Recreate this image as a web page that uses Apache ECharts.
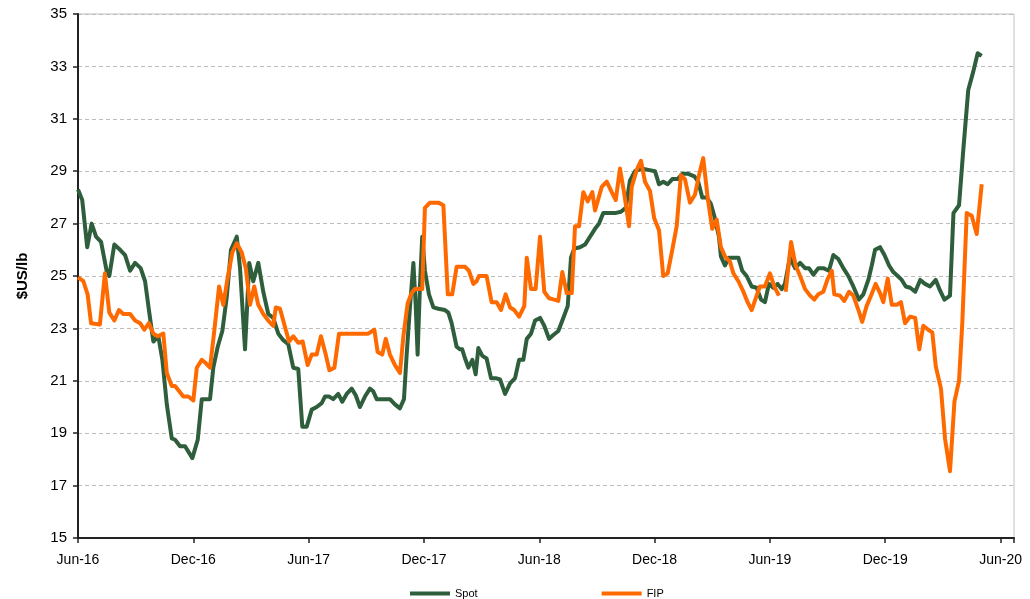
<!DOCTYPE html>
<html>
<head>
<meta charset="utf-8">
<title>Spot vs FIP</title>
<script src="https://cdn.jsdelivr.net/npm/echarts@6/dist/echarts.min.js"></script>
<style>
  html, body { margin: 0; padding: 0; background: #fff; }
  #chart { width: 1030px; height: 599px; }
</style>
</head>
<body>
<div id="chart"></div>
<script>
'use strict';

/*-----------------------------------------------
|   Data (x = months since Jun-16)
-----------------------------------------------*/
const tickLabels = ['Jun-16', 'Dec-16', 'Jun-17', 'Dec-17', 'Jun-18', 'Dec-18', 'Jun-19', 'Dec-19', 'Jun-20'];

const spotMonths = [
  0.0, 0.22, 0.48, 0.71, 0.94, 1.2, 1.49, 1.63, 1.89, 2.19, 2.45, 2.71, 2.97, 3.26, 3.49, 3.69, 3.92, 4.18, 4.39, 4.62,
  4.88, 5.05, 5.31, 5.57, 5.95, 6.23, 6.44, 6.87, 7.04, 7.27, 7.51, 7.74, 7.96, 8.26, 8.43, 8.69, 8.91, 9.12, 9.38, 9.64,
  9.9, 10.16, 10.42, 10.68, 10.94, 11.2, 11.46, 11.67, 11.9, 12.16, 12.42, 12.68, 12.85, 13.06, 13.28, 13.54, 13.75, 13.98, 14.24, 14.45,
  14.67, 14.93, 15.19, 15.36, 15.54, 15.97, 16.23, 16.49, 16.75, 16.96, 17.1, 17.27, 17.45, 17.57, 17.67, 17.79, 17.91, 18.05, 18.26, 18.49,
  18.75, 19.09, 19.27, 19.44, 19.7, 19.88, 19.99, 20.14, 20.31, 20.52, 20.69, 20.83, 21.04, 21.26, 21.49, 21.73, 21.96, 22.22, 22.48, 22.74,
  22.95, 23.17, 23.35, 23.57, 23.78, 24.04, 24.26, 24.51, 24.73, 24.99, 25.25, 25.48, 25.65, 25.82, 26.12, 26.38, 26.64, 26.9, 27.11, 27.33,
  27.59, 27.94, 28.25, 28.5, 28.72, 28.98, 29.33, 29.67, 30.02, 30.23, 30.45, 30.68, 30.92, 31.2, 31.44, 31.75, 32.07, 32.27, 32.48, 32.71,
  32.93, 33.14, 33.35, 33.45, 33.66, 33.87, 34.36, 34.56, 34.79, 35.05, 35.31, 35.54, 35.74, 35.95, 36.18, 36.4, 36.61, 36.78, 37.04, 37.31,
  37.57, 37.83, 38.03, 38.26, 38.52, 38.78, 39.07, 39.3, 39.56, 39.82, 40.08, 40.34, 40.63, 40.86, 41.12, 41.3, 41.47, 41.73, 41.96, 42.2,
  42.42, 42.65, 42.86, 43.07, 43.3, 43.56, 43.82, 44.07, 44.33, 44.63, 44.85, 45.08, 45.37, 45.55, 45.84, 46.06, 46.32, 46.58, 46.81, 47.02
];
const spotValues = [
  28.3, 27.9, 26.1, 27.0, 26.5, 26.3, 25.2, 25.0, 26.2, 26.0, 25.8, 25.2, 25.5, 25.3, 24.8, 23.7, 22.5, 22.7, 21.8, 20.1,
  18.8, 18.75, 18.5, 18.5, 18.05, 18.75, 20.3, 20.3, 21.5, 22.3, 22.9, 24.2, 26.0, 26.5, 25.3, 22.2, 25.5, 24.8, 25.5, 24.4,
  23.55, 23.4, 22.8, 22.55, 22.4, 21.5, 21.45, 19.25, 19.25, 19.9, 20.0, 20.15, 20.4, 20.4, 20.3, 20.5, 20.2, 20.5, 20.7, 20.45,
  20.0, 20.4, 20.7, 20.6, 20.3, 20.3, 20.3, 20.1, 19.95, 20.3, 22.0, 23.8, 25.5, 23.9, 22.0, 24.6, 26.5, 25.2, 24.3, 23.8,
  23.75, 23.7, 23.6, 23.2, 22.3, 22.2, 22.2, 21.85, 21.5, 21.8, 21.25, 22.25, 21.95, 21.85, 21.1, 21.1, 21.05, 20.5, 20.9, 21.1,
  21.8, 21.8, 22.6, 22.8, 23.3, 23.4, 23.1, 22.6, 22.75, 22.9, 23.4, 23.85, 25.7, 26.05, 26.1, 26.2, 26.5, 26.8, 27.0, 27.4,
  27.4, 27.4, 27.45, 27.6, 28.65, 29.0, 29.1, 29.05, 29.0, 28.5, 28.6, 28.5, 28.7, 28.7, 28.9, 28.9, 28.8, 28.6, 28.0, 28.0,
  27.75, 27.2, 26.5, 25.75, 25.4, 25.7, 25.7, 25.2, 25.0, 24.6, 24.55, 24.1, 24.0, 24.7, 24.55, 24.7, 24.5, 24.7, 25.7, 25.3,
  25.5, 25.3, 25.3, 25.05, 25.3, 25.3, 25.2, 25.8, 25.65, 25.3, 25.0, 24.6, 24.1, 24.3, 24.85, 25.4, 26.0, 26.1, 25.8, 25.4,
  25.15, 25.0, 24.85, 24.6, 24.55, 24.4, 24.85, 24.7, 24.6, 24.85, 24.45, 24.1, 24.25, 27.4, 27.7, 29.8, 32.1, 32.8, 33.5, 33.4
];

const fipMonths = [
  0.0, 0.28, 0.5, 0.68, 1.14, 1.4, 1.63, 1.89, 2.13, 2.36, 2.71, 2.97, 3.23, 3.45, 3.69, 3.92, 4.15, 4.44, 4.62, 4.88,
  5.05, 5.48, 5.74, 6.0, 6.18, 6.44, 6.61, 6.87, 7.09, 7.34, 7.56, 7.79, 8.03, 8.26, 8.52, 8.73, 8.95, 9.17, 9.38, 9.64,
  9.9, 10.16, 10.29, 10.51, 10.77, 10.98, 11.2, 11.46, 11.69, 11.95, 12.16, 12.42, 12.64, 12.89, 13.08, 13.34, 13.58, 15.1, 15.42, 15.59,
  15.83, 16.01, 16.23, 16.49, 16.75, 16.93, 17.15, 17.36, 17.53, 17.91, 18.05, 18.31, 18.75, 19.01, 19.24, 19.47, 19.7, 20.14, 20.34, 20.57,
  20.74, 20.86, 21.26, 21.52, 21.78, 22.01, 22.25, 22.48, 22.7, 22.95, 23.22, 23.35, 23.57, 23.81, 24.04, 24.26, 24.51, 24.78, 24.99, 25.2,
  25.43, 25.69, 25.86, 26.07, 26.29, 26.52, 26.76, 26.9, 27.25, 27.51, 27.77, 27.98, 28.2, 28.42, 28.67, 28.81, 29.07, 29.29, 29.5, 29.76,
  29.98, 30.23, 30.45, 30.68, 30.92, 31.15, 31.37, 31.58, 31.84, 32.1, 32.31, 32.53, 32.76, 33.0, 33.23, 33.45, 33.66, 33.92, 34.1, 34.36,
  34.62, 34.84, 35.05, 35.31, 35.48, 35.74, 36.0, 36.23, 36.47, 36.65, 36.82, 37.1, 37.34, 37.57, 37.83, 38.09, 38.31, 38.52, 38.78, 39.01,
  39.22, 39.35, 39.65, 39.87, 40.12, 40.34, 40.63, 40.8, 41.03, 41.29, 41.5, 41.73, 41.9, 42.13, 42.34, 42.6, 42.82, 43.03, 43.3, 43.56,
  43.77, 43.98, 44.24, 44.45, 44.63, 44.9, 45.11, 45.37, 45.6, 45.84, 46.01, 46.24, 46.5, 46.76, 47.02
];
const fipValues = [
  24.95, 24.8, 24.3, 23.2, 23.15, 25.1, 23.6, 23.3, 23.7, 23.55, 23.55, 23.3, 23.2, 22.95, 23.2, 22.8, 22.7, 22.8, 21.3, 20.8,
  20.8, 20.4, 20.4, 20.25, 21.5, 21.8, 21.7, 21.5, 22.9, 24.6, 23.9, 24.95, 25.9, 26.25, 25.9, 25.3, 23.9, 24.6, 23.9, 23.55,
  23.3, 23.1, 23.8, 23.75, 23.05, 22.5, 22.7, 22.45, 22.5, 21.6, 22.0, 22.0, 22.7, 22.0, 21.4, 21.5, 22.8, 22.8, 22.95, 22.1,
  22.0, 22.6, 22.0, 21.6, 21.3, 22.7, 23.95, 24.35, 24.5, 24.5, 27.6, 27.8, 27.8, 27.7, 24.3, 24.3, 25.35, 25.35, 25.2, 24.7,
  24.8, 25.0, 25.0, 24.0, 24.0, 23.7, 24.3, 23.8, 23.7, 23.45, 23.85, 25.7, 24.5, 24.5, 26.5, 24.4, 24.15, 24.1, 24.05, 25.15,
  24.35, 24.35, 26.9, 26.9, 28.2, 27.85, 28.2, 27.5, 28.4, 28.6, 28.2, 27.9, 29.1, 28.15, 26.9, 28.4, 29.05, 29.4, 28.6, 28.25,
  27.2, 26.75, 25.0, 25.1, 26.0, 26.9, 28.85, 28.7, 27.8, 28.1, 28.85, 29.5, 28.0, 26.8, 27.15, 26.1, 25.75, 25.55, 25.1, 24.8,
  24.4, 24.0, 23.7, 24.25, 24.6, 24.6, 25.1, 24.6, 24.25, null, 24.4, 26.3, 25.4, 25.0, 24.5, 24.25, 24.1, 24.3, 24.4, 24.9,
  25.2, 24.3, 24.25, 24.05, 24.4, 24.25, 23.65, 23.25, 23.85, 24.3, 24.7, 24.35, 24.0, 24.9, 23.9, 23.9, 24.0, 23.2, 23.45, 23.4,
  22.2, 23.1, 22.95, 22.85, 21.55, 20.7, 18.8, 17.55, 20.2, 21.0, 23.2, 27.4, 27.3, 26.6, 28.5
];

const toPairs = (xs, ys) => xs.map((x, i) => [x, ys[i]]);

/*-----------------------------------------------
|   Chart
-----------------------------------------------*/
const chart = echarts.init(document.getElementById('chart'), null, { renderer: 'canvas' });
const FONT = 'Liberation Sans, Arial, sans-serif';

chart.setOption({
  animation: false,
  textStyle: { fontFamily: FONT },
  grid: {
    left: 78,
    right: 16,
    top: 14,
    bottom: 61,
    show: true,
    borderColor: '#c0c0c0',
    borderWidth: 1,
  },
  legend: {
    top: 583,
    left: 405,
    itemWidth: 40,
    itemHeight: 4,
    itemGap: 124,
    icon: 'rect',
    textStyle: { fontSize: 11, color: '#000', fontFamily: FONT },
    data: ['Spot', 'FIP'],
  },
  xAxis: {
    type: 'value',
    min: 0,
    max: 48.7,
    interval: 6,
    axisLine: { show: true, onZero: false, lineStyle: { color: '#222', width: 2 } },
    axisTick: { show: true, length: 5, lineStyle: { color: '#222', width: 1.5 } },
    splitLine: { show: false },
    axisLabel: {
      color: '#000',
      fontSize: 14,
      margin: 15,
      showMaxLabel: true,
      formatter: (v) => (v % 6 === 0 ? tickLabels[v / 6] || '' : ''),
    },
  },
  yAxis: {
    type: 'value',
    min: 15,
    max: 35,
    interval: 2,
    name: '$US/lb',
    nameLocation: 'middle',
    nameGap: 48,
    nameTextStyle: { fontSize: 15, fontWeight: 'bold', color: '#000', fontFamily: FONT },
    axisLine: { show: true, lineStyle: { color: '#222', width: 2 } },
    axisTick: { show: true, length: 5, lineStyle: { color: '#222', width: 1.5 } },
    axisLabel: { color: '#000', fontSize: 15, margin: 11 },
    splitLine: { show: true, lineStyle: { color: '#bdbdbd', type: [4, 3], width: 1 } },
  },
  series: [
    {
      name: 'Spot',
      type: 'line',
      showSymbol: false,
      color: '#2e5e3c',
      lineStyle: { width: 4, color: '#2e5e3c', join: 'round' },
      data: toPairs(spotMonths, spotValues),
    },
    {
      name: 'FIP',
      type: 'line',
      showSymbol: false,
      connectNulls: false,
      color: '#ff6a00',
      lineStyle: { width: 4, color: '#ff6a00', join: 'round' },
      data: toPairs(fipMonths, fipValues),
    },
  ],
});
</script>
</body>
</html>
